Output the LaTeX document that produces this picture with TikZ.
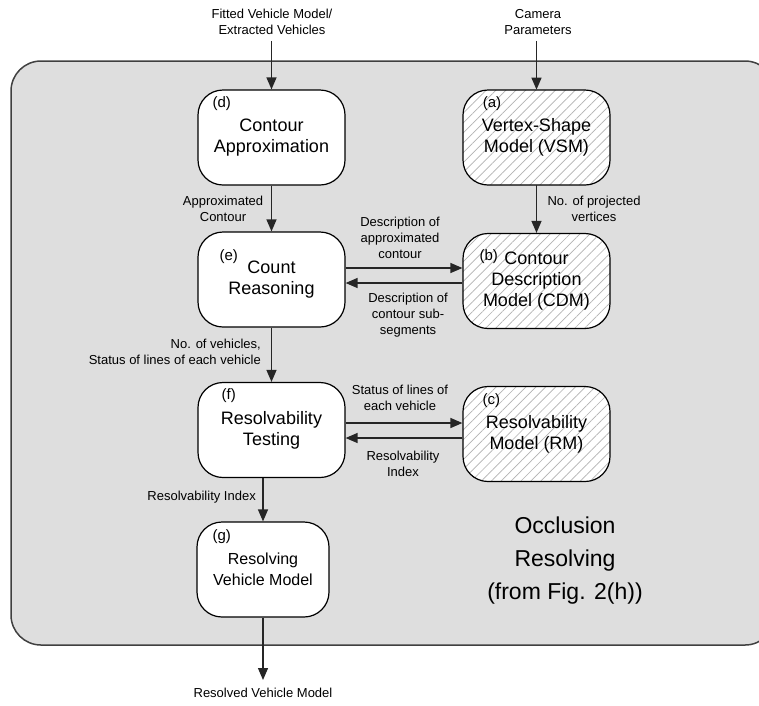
\documentclass[tikz,border=0pt]{standalone}
\usepackage{fontspec}
\setmainfont{Liberation Sans}
\usetikzlibrary{arrows.meta,patterns.meta}

\begin{document}
\begin{tikzpicture}[x=1pt, y=-1pt,
  box/.style={shape=rectangle, rounded corners=25pt, draw=black, line width=1.2pt, fill=white, minimum width=147pt, minimum height=95pt, align=center, inner sep=0pt, font=\fontsize{18}{21}\selectfont},
  model/.style={box, preaction={fill=white}, pattern={Lines[angle=45,distance=7pt,line width=0.7pt]}, pattern color=black!30},
  tag/.style={anchor=north west, inner sep=0pt, font=\fontsize{15}{15}\selectfont},
  small/.style={align=center, inner sep=0pt, font=\fontsize{13}{16}\selectfont},
  flow/.style={-{Triangle[length=12pt,width=10pt]}, line width=1.3pt, draw=black!85}]
\useasboundingbox (0,0) rectangle (759,705);
% background
\draw[rounded corners=30pt, fill=black!13, draw=black!75, line width=1.5pt] (11,61) rectangle (775,645);
\node[align=center, font=\fontsize{23}{33}\selectfont] (title) at (565,561) {Occlusion\\Resolving\\(from Fig. 2(h))};
% blocks
\node[box, label={[tag, xshift=15pt, yshift=-7pt]north west:(d)}] (d) at (271.5,137.5) {Contour\\Approximation};
\node[model, label={[tag, xshift=20pt, yshift=-7pt]north west:(a)}] (a) at (536.5,137.5) {Vertex-Shape\\Model (VSM)};
\node[box, label={[tag, xshift=22pt, yshift=-18pt]north west:(e)}] (e) at (271.5,279.5) {Count\\Reasoning};
\node[model, label={[tag, xshift=17pt, yshift=-17pt]north west:(b)}] (b) at (536.5,281) {Contour\\Description\\Model (CDM)};
\node[box, label={[tag, xshift=24pt, yshift=-7pt]north west:(f)}] (f) at (271.5,430) {Resolvability\\Testing};
\node[model, label={[tag, xshift=20pt, yshift=-8pt]north west:(c)}] (c) at (536.5,434) {Resolvability\\Model (RM)};
\node[box, minimum width=132pt, font=\fontsize{16}{21}\selectfont, label={[tag, xshift=16pt, yshift=-8pt]north west:(g)}] (g) at (263,569.5) {Resolving\\Vehicle Model};
% inputs and output
\node[small] (fitted) at (272,22) {Fitted Vehicle Model/\\Extracted Vehicles};
\node[small] (camera) at (538,22) {Camera\\Parameters};
\coordinate (out) at (263,680);
\node[small] (resolved) at (263,693) {Resolved Vehicle Model};
% edge labels
\node[small] (lapprox) at (223,209) {Approximated\\Contour};
\node[small] (lproj) at (594,209) {No. of projected\\vertices};
\node[small] (ldesca) at (400,238) {Description of\\approximated\\contour};
\node[small] (ldescs) at (408,315) {Description of\\contour sub-\\segments};
\node[small, anchor=east, align=right] (lcount) at (261,352) {No. of vehicles,\\Status of lines of each vehicle};
\node[small] (lstatus) at (400,398) {Status of lines of\\each vehicle};
\node[small] (lindex) at (403,464) {Resolvability\\Index};
\node[small, anchor=east] (lresidx) at (256,497) {Resolvability Index};
% connectors
\draw[flow, shorten <=6pt] (fitted.south -| d.north) -- (d.north);
\draw[flow, shorten <=6pt] (camera.south -| a.north) -- (a.north);
\draw[flow] (d) -- (e);
\draw[flow] (a) -- (b);
\draw[flow] ([yshift=11.5pt]e.east) -- ([yshift=11.5pt]e.east -| b.west);
\draw[flow] ([yshift=-2pt]b.west) -- ([yshift=-2pt]b.west -| e.east);
\draw[flow] (e) -- (f);
\draw[flow] ([yshift=7pt]f.east) -- ([yshift=7pt]f.east -| c.west);
\draw[flow] ([yshift=-4pt]c.west) -- ([yshift=-4pt]c.west -| f.east);
\draw[flow] (g.north |- f.south) -- (g);
\draw[flow] (g) -- (out);
\end{tikzpicture}
\end{document}
